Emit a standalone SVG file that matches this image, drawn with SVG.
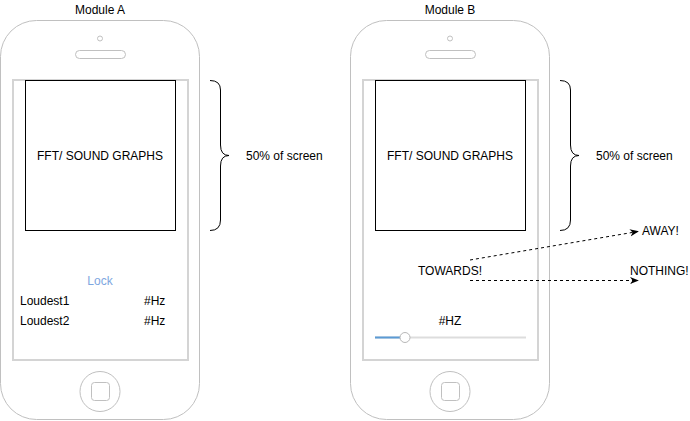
<svg xmlns="http://www.w3.org/2000/svg" width="690" height="421" viewBox="0 0 690 421">
  <defs>
    <style>
      text { font-family: "Liberation Sans", Arial, Helvetica, sans-serif; font-size: 12px; fill: #000; }
      .mid { text-anchor: middle; }
      .body { fill: #fff; stroke: #c0c0c0; stroke-width: 1; }
      .screen { fill: #fff; stroke: #d4d4d4; stroke-width: 2; }
      .part { fill: #fff; stroke: #c0c0c0; stroke-width: 1; }
      .graph { fill: #fff; stroke: #000; stroke-width: 1; }
      .brace { fill: none; stroke: #000; stroke-width: 1; }
      .flow { fill: none; stroke: #000; stroke-width: 1; stroke-dasharray: 3 3; }
    </style>
    <marker id="arrow" viewBox="0 0 10 10" refX="9" refY="5" markerWidth="9" markerHeight="9" markerUnits="userSpaceOnUse" orient="auto">
      <path d="M0,1 L10,5 L0,9 L3,5 Z" fill="#000"/>
    </marker>
    <!-- reusable phone shell -->
    <g id="phone">
      <rect class="body" x="0.5" y="20.5" width="199" height="399" rx="36" ry="36"/>
      <circle class="part" cx="100" cy="38.5" r="2.5"/>
      <rect class="part" x="75.5" y="50.5" width="50" height="8" rx="4" ry="4"/>
      <rect class="screen" x="13" y="80" width="175" height="280"/>
      <circle class="part" cx="100" cy="391.5" r="20"/>
      <rect class="part" x="91.5" y="382.5" width="18" height="18" rx="3" ry="3"/>
    </g>
  </defs>
  <rect width="690" height="421" fill="#fff"/>

  <g id="module-a">
    <text class="mid" x="100" y="14">Module  A</text>
    <use href="#phone"/>
    <rect class="graph" x="25.5" y="80.5" width="150" height="150"/>
    <text class="mid" x="100" y="160">FFT/ SOUND GRAPHS</text>
    <text class="mid" x="100" y="285" style="fill:#7ea6e0">Lock</text>
    <text x="20" y="305">Loudest1</text>
    <text x="144" y="305">#Hz</text>
    <text x="20" y="325">Loudest2</text>
    <text x="144" y="325">#Hz</text>
  </g>

  <g id="brace-a">
    <path class="brace" d="M210,80.5 Q220.5,80.5 220.5,90 V145 Q220.5,155.5 229,155.5 Q220.5,155.5 220.5,166 V220 Q220.5,230.5 210,230.5"/>
    <text x="246" y="160">50% of screen</text>
  </g>

  <g id="module-b" transform="translate(350,0)">
    <text class="mid" x="100" y="14">Module  B</text>
    <use href="#phone"/>
    <rect class="graph" x="25.5" y="80.5" width="150" height="150"/>
    <text class="mid" x="100" y="160">FFT/ SOUND GRAPHS</text>
    <text class="mid" x="100" y="275">TOWARDS!</text>
    <text class="mid" x="100" y="325">#HZ</text>
    <line x1="25" y1="337.5" x2="176" y2="337.5" stroke="#dddddd" stroke-width="2"/>
    <line x1="25" y1="337.5" x2="55" y2="337.5" stroke="#5b9bd5" stroke-width="2"/>
    <circle cx="55" cy="337.5" r="5" fill="#fff" stroke="#b8b8b8" stroke-width="1"/>
  </g>

  <g id="brace-b">
    <path class="brace" d="M560,80.5 Q570.5,80.5 570.5,90 V145 Q570.5,155.5 579,155.5 Q570.5,155.5 570.5,166 V220 Q570.5,230.5 560,230.5"/>
    <text x="596" y="160">50% of screen</text>
  </g>

  <g id="away">
    <text x="642" y="235">AWAY!</text>
  </g>
  <g id="nothing">
    <text x="630" y="275">NOTHING!</text>
  </g>

  <g id="connectors">
    <line class="flow" x1="470" y1="260" x2="638" y2="231.5" marker-end="url(#arrow)"/>
    <line class="flow" x1="470" y1="280.5" x2="638" y2="280.5" marker-end="url(#arrow)"/>
  </g>
</svg>
